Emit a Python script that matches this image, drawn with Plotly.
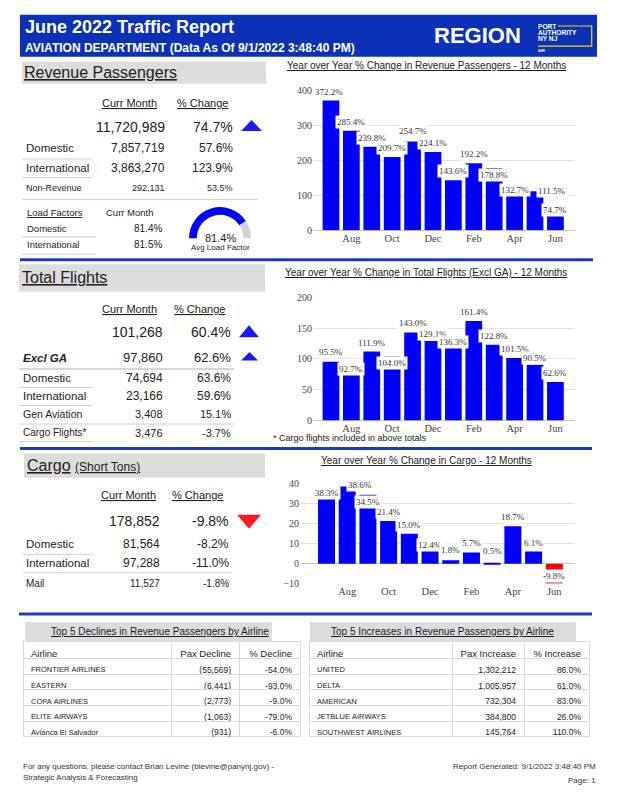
import plotly.graph_objects as go

W, H = 618, 800
SANS = "Liberation Sans, Arial, sans-serif"
SERIF = "Liberation Serif, Times New Roman, serif"
NB = "\u00a0"

# ---------------- data ----------------
MONTHS = ["Jul", "Aug", "Sep", "Oct", "Nov", "Dec", "Jan", "Feb", "Mar", "Apr", "May", "Jun"]
TICK_MONTHS = ["Aug", "Oct", "Dec", "Feb", "Apr", "Jun"]
REV_PAX_YOY = [372.2, 285.4, 239.8, 209.7, 254.7, 224.1, 143.6, 192.2, 178.8, 132.7, 111.5, 74.7]
FLIGHTS_YOY = [95.5, 92.7, 111.9, 104.0, 143.0, 129.1, 136.3, 161.4, 122.8, 101.5, 90.5, 62.6]
CARGO_YOY = [38.3, 38.6, 34.5, 21.4, 15.0, 12.4, 1.8, 5.7, 0.5, 18.7, 6.1, -9.8]

REV_PAX_TOTAL = 11720989
REV_PAX_TOTAL_PCT = 74.7
REV_PAX_ROWS = ["Domestic", "International", "Non-Revenue"]
REV_PAX_CURR = [7857719, 3863270, 292131]
REV_PAX_PCT = [57.6, 123.9, 53.5]
LOAD_FACTOR_ROWS = ["Domestic", "International"]
LOAD_FACTOR_CURR = [81.4, 81.5]
AVG_LOAD_FACTOR = 81.4

FLIGHTS_TOTAL = 101268
FLIGHTS_TOTAL_PCT = 60.4
FLIGHTS_EXCL_GA = 97860
FLIGHTS_EXCL_GA_PCT = 62.6
FLIGHTS_ROWS = ["Domestic", "International", "Gen Aviation", "Cargo Flights*"]
FLIGHTS_CURR = [74694, 23166, 3408, 3476]
FLIGHTS_PCT = [63.6, 59.6, 15.1, -3.7]

CARGO_TOTAL = 178852
CARGO_TOTAL_PCT = -9.8
CARGO_ROWS = ["Domestic", "International", "Mail"]
CARGO_CURR = [81564, 97288, 11527]
CARGO_PCT = [-8.2, -11.0, -1.8]

DECLINE_AIRLINES = ["FRONTIER AIRLINES", "EASTERN", "COPA AIRLINES", "ELITE AIRWAYS", "Avianca El Salvador"]
DECLINE_PAX = [-55569, -6441, -2773, -1063, -931]
DECLINE_PCT = [-54.0, -93.0, -9.0, -79.0, -6.0]
INCREASE_AIRLINES = ["UNITED", "DELTA", "AMERICAN", "JETBLUE AIRWAYS", "SOUTHWEST AIRLINES"]
INCREASE_PAX = [1302212, 1005957, 732304, 384800, 145764]
INCREASE_PCT = [86.0, 61.0, 83.0, 26.0, 110.0]

# label nudges (px) for the bar value labels (style only)
REV_LABEL_DY = [9, 9, 9, 9, 10, 9, 9, 9, -7, -6, 0, -6]
REV_LABEL_DX = [-2, 0, 0, 0, 0, 0, 0, 0, 0, 0, 17, 0]
FLT_LABEL_DY = [10, -6, 9, -7, 9, 7, -5, 9, 9, 9, 7, 9]
FLT_LABEL_DX = [0] * 12
CGO_LABEL_DY = [-6, 1, -7, 9, 9, -6, 10, 9, 12, 9, 9, 7]
CGO_LABEL_DX = [0, 13, 0, 0, 0, 0, 0, 0, 0, 0, 0, 0]

# ---------------- helpers ----------------
BLUE_HDR = "#0b31b7"
BLUE_SEP = "#1a3bbd"
BAR_BLUE = "#0000ff"
BAR_RED = "#ff0000"
GRAY_BOX = "#dcdcdc"
LINE_GRAY = "#cfcfcf"
TXT = "#222222"

# page placement compensation (page offset / vertical fit of the photo)
OFF_X, OFF_Y, SY = 8.0, 14.3, 0.983


def X(px):
    return (px - OFF_X) / W


def Y(py):
    return 1 - ((py - OFF_Y) / SY) / H


ann = []
shapes = []


def txt(px, py, text, size, color=TXT, xanchor="left", family=SANS, yanchor="middle", align="left"):
    ann.append(dict(x=X(px), y=Y(py), xref="paper", yref="paper", text=text,
                    showarrow=False, xanchor=xanchor, yanchor=yanchor, align=align,
                    font=dict(size=size, color=color, family=family)))


def rect(x0, y0, x1, y1, fill):
    shapes.append(dict(type="rect", xref="paper", yref="paper", x0=X(x0), x1=X(x1),
                       y0=Y(y1), y1=Y(y0), fillcolor=fill, line=dict(width=0), layer="below"))


def hline(x0, x1, y, color=LINE_GRAY, width=1):
    shapes.append(dict(type="line", xref="paper", yref="paper", x0=X(x0), x1=X(x1),
                       y0=Y(y), y1=Y(y), line=dict(color=color, width=width)))


def tri(x0, x1, y0, y1, value):
    up = value >= 0
    color = "#1a1aff" if up else "#ff1a1a"
    xm = (x0 + x1) / 2
    if up:
        path = f"M {X(x0)} {Y(y1)} L {X(x1)} {Y(y1)} L {X(xm)} {Y(y0)} Z"
    else:
        path = f"M {X(x0)} {Y(y0)} L {X(x1)} {Y(y0)} L {X(xm)} {Y(y1)} Z"
    shapes.append(dict(type="path", xref="paper", yref="paper", path=path,
                       fillcolor=color, line=dict(width=0)))


def num(v):
    return f"{v:,}"


def pct(v):
    return f"{v:.1f}%"


def nb(s):
    return s.replace(" ", NB)


fig = go.Figure()

# ---------------- header ----------------
rect(20, 15, 597, 57, BLUE_HDR)
txt(23, 27, "<b>June 2022 Traffic Report</b>", 18, "white")
txt(23, 48.5, "<b>AVIATION DEPARTMENT (Data As Of 9/1/2022 3:48:40 PM)</b>", 12, "white")
txt(477, 36, "<b>REGION</b>", 22, "white", "center")
logo = "<br>".join(f"<span style='font-size:6.6px'><b>{w}</b></span>" for w in ["PORT", "AUTHORITY", "NY NJ"])
txt(536, 32.6, logo, 4.5, "white", align="left")
txt(536, 51, "<b>AIR</b>", 4, "white")
shapes.append(dict(type="path", xref="paper", yref="paper",
                   path=f"M {X(558)} {Y(26.3)} L {X(591.7)} {Y(26.3)} L {X(591.7)} {Y(46.3)} L {X(538)} {Y(46.3)}",
                   line=dict(color="#f0d400", width=1.2)))

# ---------------- Revenue passengers block ----------------
rect(22, 62, 266, 84, GRAY_BOX)
txt(22, 73, "<u>Revenue Passengers</u>", 16)
txt(130, 103, "<u>Curr Month</u>", 11, xanchor="center")
txt(202, 103, "<u>% Change</u>", 11, xanchor="center")
txt(167, 127, num(REV_PAX_TOTAL), 14, xanchor="right")
txt(235, 127, pct(REV_PAX_TOTAL_PCT), 14, xanchor="right")
tri(241, 262, 120, 131, REV_PAX_TOTAL_PCT)
rp_y = [148, 168, 187.5]
rp_ls = [11.5, 11.5, 9]
rp_vs = [12, 12, 9]
for i, lab in enumerate(REV_PAX_ROWS):
    txt(24, rp_y[i], lab, rp_ls[i])
    txt(167, rp_y[i], num(REV_PAX_CURR[i]), rp_vs[i], xanchor="right")
    txt(235, rp_y[i], pct(REV_PAX_PCT[i]), rp_vs[i], xanchor="right")
hline(22, 92, 159)
hline(22, 92, 177.5)
hline(22, 258, 199.5)
txt(25, 212, "<u>Load Factors</u>", 9.5)
txt(130, 212, "Curr Month", 9.5, xanchor="center")
lf_y = [228, 244]
for i, lab in enumerate(LOAD_FACTOR_ROWS):
    txt(25, lf_y[i], lab, 9.5)
    txt(164, lf_y[i], pct(LOAD_FACTOR_CURR[i]), 10, xanchor="right")
hline(22, 96, 236.5)
hline(22, 96, 254)

fig.add_trace(go.Pie(values=[AVG_LOAD_FACTOR, 100 - AVG_LOAD_FACTOR, 100],
                     marker=dict(colors=[BAR_BLUE, "#d3d3d3", "rgba(0,0,0,0)"], line=dict(width=0)),
                     hole=0.75, sort=False, direction="clockwise", rotation=270,
                     textinfo="none", hoverinfo="skip", showlegend=False,
                     domain=dict(x=[X(189), X(251)], y=[Y(269), Y(207)])))
txt(220, 238, pct(AVG_LOAD_FACTOR), 11, xanchor="center")
txt(220, 247, "Avg Load Factor", 8, xanchor="center")

# ---------------- Total flights block ----------------
rect(19, 264, 265, 291.5, GRAY_BOX)
txt(20, 277.5, "<u>Total Flights</u>", 16)
txt(129, 308.5, "<u>Curr Month</u>", 11, xanchor="center")
txt(200, 308.5, "<u>% Change</u>", 11, xanchor="center")
txt(165, 332, num(FLIGHTS_TOTAL), 14, xanchor="right")
txt(233, 332, pct(FLIGHTS_TOTAL_PCT), 14, xanchor="right")
tri(239, 259, 325, 337, FLIGHTS_TOTAL_PCT)
txt(21, 357.5, "<b><i>Excl GA</i></b>", 11.5)
txt(165, 357.5, num(FLIGHTS_EXCL_GA), 13, xanchor="right")
txt(233, 357.5, pct(FLIGHTS_EXCL_GA_PCT), 13, xanchor="right")
tri(241, 258, 351.5, 360, FLIGHTS_EXCL_GA_PCT)
hline(19, 234, 368.5, "#c8c8c8", 1.5)
fl_y = [377.5, 396, 413.5, 432]
fl_ls = [11.5, 11.5, 10.5, 10]
fl_vs = [12, 12, 11, 11]
for i, lab in enumerate(FLIGHTS_ROWS):
    txt(21, fl_y[i], lab, fl_ls[i])
    txt(165, fl_y[i], num(FLIGHTS_CURR[i]), fl_vs[i], xanchor="right")
    txt(233, fl_y[i], pct(FLIGHTS_PCT[i]), fl_vs[i], xanchor="right")
hline(19, 92, 387)
hline(19, 92, 405)
hline(19, 234, 423.5)
hline(19, 92, 441)

# ---------------- Cargo block ----------------
rect(24, 453, 265, 477, GRAY_BOX)
txt(25, 465, "<u>Cargo</u> <span style='font-size:12px'><u>(Short Tons)</u></span>", 16)
txt(128, 494.5, "<u>Curr Month</u>", 11, xanchor="center")
txt(197.5, 494.5, "<u>% Change</u>", 11, xanchor="center")
txt(162, 520, num(CARGO_TOTAL), 14, xanchor="right")
txt(231, 520, pct(CARGO_TOTAL_PCT), 14, xanchor="right")
tri(237, 261, 514, 528, CARGO_TOTAL_PCT)
cg_y = [543.5, 562.5, 582.5]
cg_ls = [11.5, 11.5, 10]
cg_vs = [12, 12, 10]
for i, lab in enumerate(CARGO_ROWS):
    txt(24, cg_y[i], lab, cg_ls[i])
    txt(162, cg_y[i], num(CARGO_CURR[i]), cg_vs[i], xanchor="right")
    txt(231, cg_y[i], pct(CARGO_PCT[i]), cg_vs[i], xanchor="right")
hline(23, 93, 553.5)
hline(23, 232, 572)

# ---------------- separators ----------------
hline(20, 593, 259.5, BLUE_SEP, 3)
hline(20, 592, 448, BLUE_SEP, 3)
hline(19, 592, 613, BLUE_SEP, 3)

# ---------------- bar charts ----------------
def add_chart(values, idx, dys, dxs):
    xa = "x" if idx == 1 else f"x{idx}"
    ya = "y" if idx == 1 else f"y{idx}"
    colors = [BAR_BLUE if v >= 0 else BAR_RED for v in values]
    fig.add_trace(go.Bar(x=MONTHS, y=values, marker=dict(color=colors, line=dict(width=0)),
                         xaxis=xa, yaxis=ya, hoverinfo="skip", showlegend=False))
    for i, v in enumerate(values):
        ann.append(dict(x=MONTHS[i], y=v, xref=xa, yref=ya, text=pct(v), showarrow=False,
                        xanchor="center", yanchor="middle", yshift=dys[i], xshift=dxs[i],
                        bgcolor="white", borderpad=1,
                        font=dict(size=9, color="#333", family=SERIF)))


add_chart(REV_PAX_YOY, 1, REV_LABEL_DY, REV_LABEL_DX)
add_chart(FLIGHTS_YOY, 2, FLT_LABEL_DY, FLT_LABEL_DX)
add_chart(CARGO_YOY, 3, CGO_LABEL_DY, CGO_LABEL_DX)

txt(285, 66, "<u>Year over Year % Change in Revenue Passengers - 12 Months</u>", 10)
txt(283, 272, "<u>Year over Year % Change in Total Flights (Excl GA) - 12 Months</u>", 10)
txt(319, 459.5, "<u>Year over Year % Change in Cargo - 12 Months</u>", 10)
txt(271, 437, "* Cargo flights included in above totals", 9)


def xaxis(x0, x1, r, anchor):
    return dict(domain=[X(x0), X(x1)], type="category", categoryorder="array",
                categoryarray=MONTHS, range=r, tickmode="array", tickvals=TICK_MONTHS,
                ticktext=TICK_MONTHS, showgrid=False, showline=False, ticks="",
                zeroline=False, tickfont=dict(family=SERIF, size=10.5, color="#444"),
                anchor=anchor, fixedrange=True)


def yaxis(py0, py1, r, dtick, anchor):
    return dict(domain=[Y(py0), Y(py1)], range=r, dtick=dtick, showgrid=True,
                gridcolor="#e2e2e2", gridwidth=1, zeroline=True, zerolinecolor="#c8c8c8",
                zerolinewidth=1, showline=False, ticks="",
                tickfont=dict(family=SERIF, size=10, color="#444"),
                anchor=anchor, fixedrange=True)


# ---------------- tables ----------------
rect(25, 621, 272, 640, GRAY_BOX)
txt(160, 630.5, "<u>Top 5 Declines in Revenue Passengers by Airline</u>", 10, xanchor="center")
rect(310, 621, 576, 640, GRAY_BOX)
txt(442, 630.5, "<u>Top 5 Increases in Revenue Passengers by Airline</u>", 10, xanchor="center")

tbl_line = dict(color="#d9d9d9", width=1)
HDR_H = 17 / SY
ROW_H = 15.3 / SY
TBL_TOP = 640.5
fig.add_trace(go.Table(
    domain=dict(x=[X(23), X(300)], y=[Y(750), Y(TBL_TOP)]),
    columnwidth=[148, 68, 61],
    header=dict(values=[nb(s) for s in ["Airline", "Pax Decline", "% Decline"]],
                align=["left", "right", "right"],
                height=HDR_H, fill=dict(color="white"), line=tbl_line,
                font=dict(family=SANS, size=9.5, color=TXT)),
    cells=dict(values=[[nb(a) for a in DECLINE_AIRLINES],
                       [f"({abs(v):,})" for v in DECLINE_PAX],
                       [pct(v) for v in DECLINE_PCT]],
               align=["left", "right", "right"], height=ROW_H, fill=dict(color="white"), line=tbl_line,
               font=dict(family=SANS, size=[7.5, 8.5, 8.5], color=TXT))))
fig.add_trace(go.Table(
    domain=dict(x=[X(309), X(589)], y=[Y(750), Y(TBL_TOP)]),
    columnwidth=[143, 72, 65],
    header=dict(values=[nb(s) for s in ["Airline", "Pax Increase", "% Increase"]],
                align=["left", "right", "right"],
                height=HDR_H, fill=dict(color="white"), line=tbl_line,
                font=dict(family=SANS, size=9.5, color=TXT)),
    cells=dict(values=[[nb(a) for a in INCREASE_AIRLINES],
                       [num(v) for v in INCREASE_PAX],
                       [pct(v) for v in INCREASE_PCT]],
               align=["left", "right", "right"], height=ROW_H, fill=dict(color="white"), line=tbl_line,
               font=dict(family=SANS, size=[7.5, 8.5, 8.5], color=TXT))))

# ---------------- footer ----------------
txt(21, 765, "For any questions, please contact Brian Levine (blevine@panynj.gov) -", 8, "#333")
txt(21, 776, "Strategic Analysis & Forecasting", 8, "#333")
txt(598, 765, "Report Generated: 9/1/2022 3:48:40 PM", 8, "#333", xanchor="right")
txt(598, 779, "Page: 1", 8, "#333", xanchor="right")

fig.update_layout(
    width=W, height=H, autosize=False,
    margin=dict(l=0, r=0, t=0, b=0),
    paper_bgcolor="white", plot_bgcolor="white",
    font=dict(family=SANS, color=TXT),
    bargap=0.18,
    showlegend=False,
    xaxis=xaxis(313, 575, [-0.88, 11.96], "y"),
    yaxis=yaxis(230, 91, [0, 400], 100, "x"),
    xaxis2=xaxis(313, 575, [-0.88, 11.96], "y2"),
    yaxis2=yaxis(420, 297, [0, 200], 50, "x2"),
    xaxis3=xaxis(300, 575, [-1.28, 12.0], "y3"),
    yaxis3=yaxis(583, 483, [-10, 40], 10, "x3"),
    annotations=ann,
    shapes=shapes,
)

fig.write_html("out.html")
